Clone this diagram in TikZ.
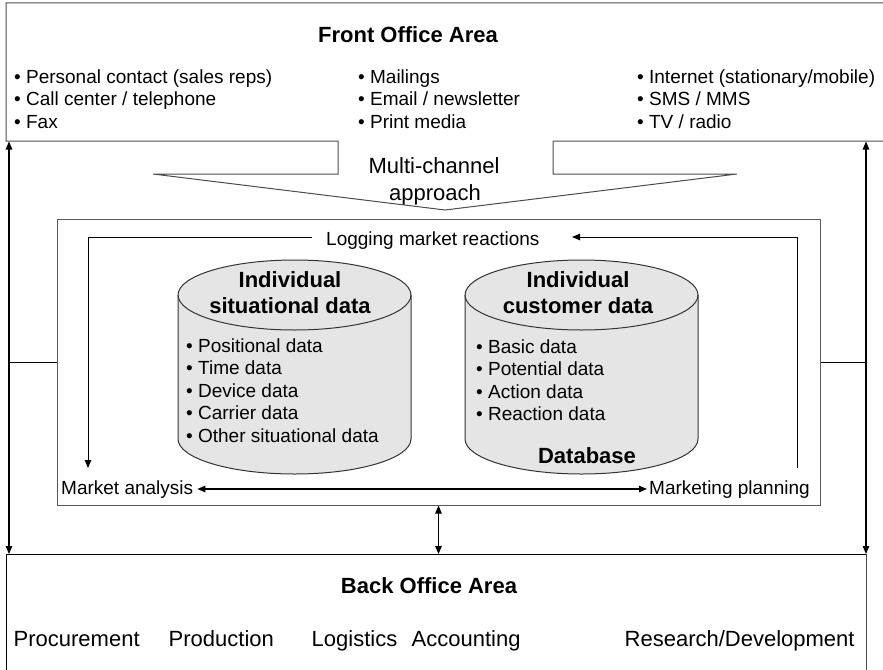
\documentclass[tikz,border=0pt]{standalone}
\usepackage{fontspec}
\setmainfont{Liberation Sans}
\usetikzlibrary{arrows.meta}
\begin{document}
\begin{tikzpicture}[x=1pt,y=-1pt,
  txt/.style={inner sep=0pt, anchor=base west, font=\fontsize{19}{22.5}\selectfont},
  big/.style={inner sep=0pt, anchor=base west, font=\fontsize{22}{26}\selectfont},
  bigc/.style={inner sep=0pt, anchor=base, font=\fontsize{22}{26}\selectfont},
  title/.style={inner sep=0pt, anchor=base, font=\bfseries\fontsize{22}{26}\selectfont},
  outline/.style={draw=black!70, line width=1pt},
  tip/.tip={Triangle[length=8pt,width=6.5pt]},
  arr/.style={-tip, line width=1.2pt},
  dbl/.style={tip-tip, line width=1.2pt},
  thin/.style={line width=0.9pt},
  db/.style={fill=black!10, draw=black!80, line width=1pt},
  dbcyl/.pic={
    \path[db] (-116.5,0) -- (-116.5,144)
      arc[start angle=180,end angle=360,x radius=116.5pt,y radius=35pt]
      -- (116.5,0)
      arc[start angle=0,end angle=180,x radius=116.5pt,y radius=35pt] -- cycle;
    \draw[db, fill=none] (-116.5,0)
      arc[start angle=180,end angle=360,x radius=116.5pt,y radius=35pt];
  }]
\useasboundingbox (0,0) rectangle (883,669);

% Front office area with the funnel into the core
\draw[outline] (884,3) -- (6,3) -- (6,141) -- (338,141) -- (338,174) -- (153,174)
  -- (445,210) -- (737,174) -- (553,174) -- (553,141) -- (884,141);
\node[title] (front) at (408,43) {Front Office Area};
\foreach \t [count=\i] in {{Personal contact (sales reps)},{Call center / telephone},{Fax}}
  \node[txt] (chA\i) at (14,{83+22.5*(\i-1)}) {• \t};
\foreach \t [count=\i] in {{Mailings},{Email / newsletter},{Print media}}
  \node[txt] (chB\i) at (358,{83+22.5*(\i-1)}) {• \t};
\foreach \t [count=\i] in {{Internet (stationary/mobile)},{SMS / MMS},{TV / radio}}
  \node[txt] (chC\i) at (637,{83+22.5*(\i-1)}) {• \t};
\node[bigc] (multi) at (434,173) {Multi-channel};
\node[bigc] (appr) at (435,200) {approach};

% Back office area
\draw[line width=1pt] (6,675) -- (6,554) -- (866,554);
\draw[outline] (866,554) -- (866,675);
\node[title] (back) at (429,593) {Back Office Area};
\node[big] (proc) at (13.5,646) {Procurement};
\node[big] (prod) at (168.5,646) {Production};
\node[big] (logi) at (311.5,646) {Logistics};
\node[big] (acct) at (411.5,646) {Accounting};
\node[big] (rnd) at (624.5,646) {Research/Development};

% Core with the two databases
\node[draw=black!65, line width=1pt, minimum width=763pt, minimum height=286pt,
  inner sep=0pt] (core) at (438.5,362) {};
\pic at (294.5,295) {dbcyl};
\pic at (581.5,295) {dbcyl};
\node[title] (sitA) at (290,287) {Individual};
\node[title] (sitB) at (290,313) {situational data};
\foreach \t [count=\i] in {{Positional data},{Time data},{Device data},{Carrier data},{Other situational data}}
  \node[txt] (sit\i) at (186,{352+22.5*(\i-1)}) {• \t};
\node[title] (cusA) at (578,287) {Individual};
\node[title] (cusB) at (578,313) {customer data};
\foreach \t [count=\i] in {{Basic data},{Potential data},{Action data},{Reaction data}}
  \node[txt] (cus\i) at (476,{353+22.5*(\i-1)}) {• \t};
\node[title] (dbase) at (587,463) {Database};

% Analysis and planning loop
\node[txt] (logging) at (326,245) {Logging market reactions};
\node[txt] (ana) at (61,494) {Market analysis};
\node[txt] (plan) at (649,494) {Marketing planning};
\coordinate (logL) at (312,237);
\coordinate (logR) at (572,237);
\coordinate (anaTop) at (88,468);
\coordinate (planTop) at (797,468);
\draw[arr, line width=1pt] (logL) -| (anaTop);
\draw[arr, line width=1pt] (planTop) |- (logR);
\draw[dbl, shorten <=4pt, shorten >=2pt] (ana.east |- 0,489) -- (plan.west |- 0,489);

% Links between the areas
\coordinate (foL) at (9,141.5);
\coordinate (foR) at (866,141.5);
\coordinate (boL) at (9,554);
\coordinate (boR) at (866,554);
\coordinate (boM) at (438.5,554);
\draw[dbl] (foL) -- (boL);
\draw[dbl] (foR) -- (boR);
\draw[dbl] (core.south) -- (boM);
\draw[thin] (core.west) -- (core.west -| foL);
\draw[thin] (core.east) -- (core.east -| foR);
\end{tikzpicture}
\end{document}
